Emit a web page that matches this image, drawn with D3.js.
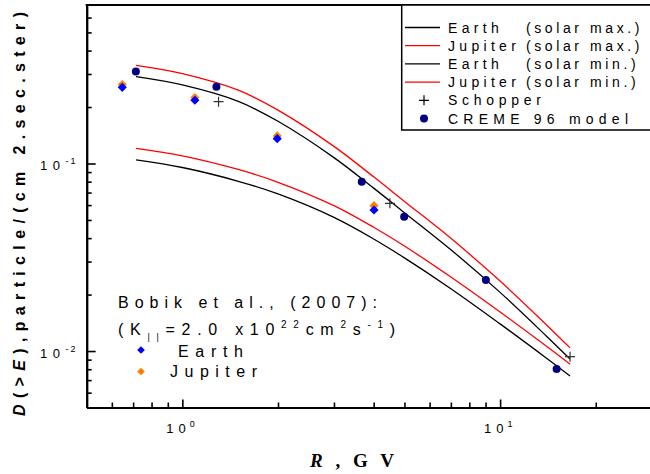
<!DOCTYPE html>
<html><head><meta charset="utf-8">
<script src="https://cdn.jsdelivr.net/npm/d3@7"></script>
<style>body{margin:0;background:#fff} svg{display:block}</style>
</head><body>
<svg id="c" width="650" height="474"></svg>
<script>
// ---- data ----
const rigidity = [0.715, 1, 1.5, 2, 3, 4, 5, 7, 10, 14, 16.6];
const earthSolarMax   = [0.1045, 0.0952, 0.0804, 0.0688, 0.0516, 0.0396, 0.0314, 0.0215, 0.01396, 0.00916, 0.00736];
const jupiterSolarMax = [0.1205, 0.1099, 0.0929, 0.0794, 0.0596, 0.0457, 0.0363, 0.0248, 0.01614, 0.0106, 0.00851];
const earthSolarMin   = [0.2904, 0.2625, 0.2144, 0.1679, 0.1075, 0.0739, 0.0547, 0.0347, 0.02055, 0.0120, 0.00906];
const jupiterSolarMin = [0.3334, 0.3014, 0.2461, 0.1927, 0.1234, 0.0849, 0.0628, 0.0399, 0.0236, 0.01378, 0.0104];
const schopperR    = [1.30, 4.50, 16.6];
const schopperFlux = [0.2136, 0.0613, 0.00933];
const cremeR    = [0.714, 1.28, 3.67, 4.99, 9.02, 15.06];
const cremeFlux = [0.309, 0.2567, 0.080, 0.052, 0.0239, 0.00802];
const bobikR       = [0.647, 1.095, 1.989, 4.01];
const bobikEarth   = [0.2547, 0.2173, 0.1356, 0.0565];
const bobikJupiter = [0.2636, 0.2249, 0.1403, 0.0596];
const xMajorTicks = [1, 10];
const xMajorLabels = ["0", "1"];
const yMajorTicks = [0.01, 0.1];
const yMajorLabels = ["-2", "-1"];
const seriesNames = ["Earth", "Jupiter", "Earth", "Jupiter"];
const seriesConds = ["(solar max.)", "(solar max.)", "(solar min.)", "(solar min.)"];

// ---- layout ----
const SANS = "'Liberation Sans', Arial, sans-serif";
const SERIF = "'Liberation Serif', 'Times New Roman', serif";
const L = 86.7, R = 651.7, T = 5, B = 407.5;
const x = d3.scaleLog().domain([0.5, 30]).range([L, R]);
const y = d3.scaleLog().domain([0.005, 0.7]).range([B, T]);
const svg = d3.select("#c");

function fit(sel, target) {
  const n = sel.node();
  sel.style("letter-spacing", "0px");
  const w0 = n.getComputedTextLength();
  const cnt = n.textContent.length;
  sel.style("letter-spacing", ((target - w0) / (cnt - 1)) + "px");
}

// minor tick values
const xMinor = [], yMinor = [];
[0.1, 1, 10].forEach(d => { for (let k = 2; k <= 9; k++) { const v = d * k; if (v > 0.5 && v < 30) xMinor.push(v); } });
[0.001, 0.01, 0.1].forEach(d => { for (let k = 2; k <= 9; k++) { const v = d * k; if (v > 0.005 && v < 0.7) yMinor.push(v); } });

// axes
function styleAxis(g) {
  g.select(".domain").attr("stroke", "#000").attr("stroke-width", 2);
  g.selectAll(".tick line").attr("stroke", "#000").attr("stroke-width", 1.6);
  g.selectAll(".tick text").remove();
}
svg.append("g").attr("transform", `translate(0,${B})`)
  .call(d3.axisBottom(x).tickValues(xMinor).tickSize(-5).tickSizeOuter(0).tickFormat("")).call(styleAxis);
svg.append("g").attr("transform", `translate(0,${B})`)
  .call(d3.axisBottom(x).tickValues(xMajorTicks).tickSize(-8).tickSizeOuter(0).tickFormat("")).call(styleAxis);
svg.append("g").attr("transform", `translate(${L},0)`)
  .call(d3.axisLeft(y).tickValues(yMinor).tickSize(-5).tickSizeOuter(0).tickFormat("")).call(styleAxis);
svg.append("g").attr("transform", `translate(${L},0)`)
  .call(d3.axisLeft(y).tickValues(yMajorTicks).tickSize(-9).tickSizeOuter(0).tickFormat("")).call(styleAxis);
svg.append("line").attr("x1", L - 1).attr("x2", R).attr("y1", T).attr("y2", T).attr("stroke", "#000").attr("stroke-width", 2);
svg.append("line").attr("x1", R).attr("x2", R).attr("y1", T).attr("y2", B).attr("stroke", "#000").attr("stroke-width", 2);

// tick labels
xMajorTicks.forEach((v, i) => {
  const t = svg.append("text").attr("x", x(v) - 16).attr("y", 433).attr("font-family", SANS).attr("font-size", 13).attr("fill", "#000");
  t.append("tspan").text("10").style("letter-spacing", "5px");
  t.append("tspan").text(xMajorLabels[i]).attr("font-size", 9).attr("dy", -6).attr("dx", -1);
});
yMajorTicks.forEach((v, i) => {
  const t = svg.append("text").attr("x", 40).attr("y", y(v) + 6.5).attr("font-family", SANS).attr("font-size", 13).attr("fill", "#000");
  t.append("tspan").text("10").style("letter-spacing", "5.5px");
  t.append("tspan").text(yMajorLabels[i]).attr("font-size", 9).attr("dy", -6).attr("dx", 0).style("letter-spacing", "2px");
});

// axis titles
const yt = svg.append("text").attr("transform", "translate(25,416) rotate(-90)")
  .attr("font-family", SANS).attr("font-size", 16).attr("font-weight", "bold").attr("fill", "#000");
yt.append("tspan").text("D").attr("font-style", "italic");
yt.append("tspan").text("(>");
yt.append("tspan").text("E").attr("font-style", "italic");
yt.append("tspan").text("),particle/(cm 2.sec.ster)");
fit(yt, 404);

const xt = svg.append("text").attr("x", 310).attr("y", 467)
  .attr("font-family", SERIF).attr("font-size", 19).attr("font-weight", "bold").attr("fill", "#000");
xt.append("tspan").text("R").attr("font-style", "italic");
xt.append("tspan").text(" , G V");
fit(xt, 84);

// curves
const line = d3.line().x(d => x(d[0])).y(d => y(d[1])).curve(d3.curveCatmullRom.alpha(0.5));
const curves = [
  [earthSolarMax, "#000"],
  [jupiterSolarMax, "#ff0000"],
  [earthSolarMin, "#000"],
  [jupiterSolarMin, "#ff0000"]
];
curves.forEach(([vals, col]) => {
  svg.append("path").datum(rigidity.map((r, i) => [r, vals[i]]))
    .attr("d", line).attr("fill", "none").attr("stroke", col).attr("stroke-width", 1.3);
});

// Bobik diamonds (Jupiter orange behind, Earth blue in front)
const diamond = d3.symbol(d3.symbolSquare, 42);
bobikR.forEach((r, i) => {
  svg.append("path").attr("d", diamond()).attr("fill", "#ff8000")
    .attr("transform", `translate(${x(r)},${y(bobikJupiter[i])}) rotate(45)`);
});
bobikR.forEach((r, i) => {
  svg.append("path").attr("d", diamond()).attr("fill", "#0000ff")
    .attr("transform", `translate(${x(r)},${y(bobikEarth[i])}) rotate(45)`);
});

// CREME 96 model
cremeR.forEach((r, i) => {
  svg.append("circle").attr("cx", x(r)).attr("cy", y(cremeFlux[i])).attr("r", 4).attr("fill", "#000080");
});
// Schopper crosses
schopperR.forEach((r, i) => {
  svg.append("path").attr("d", "M-5,0H5M0,-5V5").attr("stroke", "#333").attr("stroke-width", 1.2)
    .attr("transform", `translate(${x(r)},${y(schopperFlux[i])})`);
});

// legend box
svg.append("rect").attr("x", 401.7).attr("y", T).attr("width", 270).attr("height", 125)
  .attr("fill", "#fff").attr("stroke", "#000").attr("stroke-width", 1.5);
const lgY = i => 27.5 + i * 18.2;
curves.forEach(([vals, col], i) => {
  svg.append("line").attr("x1", 405).attr("x2", 440).attr("y1", lgY(i)).attr("y2", lgY(i))
    .attr("stroke", col).attr("stroke-width", 1.3);
  svg.append("text").attr("x", 448).attr("y", lgY(i) + 5).attr("font-family", SANS).attr("font-size", 14)
    .style("letter-spacing", "4.3px").text(seriesNames[i]);
  svg.append("text").attr("x", 526).attr("y", lgY(i) + 5).attr("font-family", SANS).attr("font-size", 14)
    .style("letter-spacing", "3.6px").text(seriesConds[i]);
});
svg.append("path").attr("d", "M-5,0H5M0,-5V5").attr("stroke", "#000").attr("stroke-width", 1.2)
  .attr("transform", `translate(424,${lgY(4)})`);
svg.append("text").attr("x", 448).attr("y", lgY(4) + 5).attr("font-family", SANS).attr("font-size", 14)
  .style("letter-spacing", "4.7px").text("Schopper");
svg.append("circle").attr("cx", 424).attr("cy", lgY(5)).attr("r", 4).attr("fill", "#000080");
const cr = svg.append("text").attr("x", 448).attr("y", lgY(5) + 5).attr("font-family", SANS).attr("font-size", 14).text("CREME 96 model");
fit(cr, 180);

// annotation
const a1 = svg.append("text").attr("x", 118).attr("y", 308).attr("font-family", SANS).attr("font-size", 16).text("Bobik et al., (2007):");
fit(a1, 259);
const a2 = svg.append("text").attr("x", 118).attr("y", 335).attr("font-family", SANS).attr("font-size", 16);
a2.append("tspan").text("(K");
a2.append("tspan").text("||").attr("font-size", 9).attr("dy", 5);
a2.append("tspan").text("=2.0 x10").attr("dy", -5);
a2.append("tspan").text("22").attr("font-size", 10).attr("dy", -7);
a2.append("tspan").text("cm").attr("dy", 7);
a2.append("tspan").text("2").attr("font-size", 10).attr("dy", -7);
a2.append("tspan").text("s").attr("dy", 7);
a2.append("tspan").text("-1").attr("font-size", 10).attr("dy", -7);
a2.append("tspan").text(")").attr("dy", 7);
fit(a2, 277);
const dSmall = d3.symbol(d3.symbolSquare, 30);
svg.append("path").attr("d", dSmall()).attr("fill", "#0000ff").attr("transform", "translate(141,350) rotate(45)");
svg.append("path").attr("d", dSmall()).attr("fill", "#ff8000").attr("transform", "translate(141,371.5) rotate(45)");
const e1 = svg.append("text").attr("x", 178).attr("y", 356.5).attr("font-family", SANS).attr("font-size", 16).text("Earth");
fit(e1, 65);
const j1 = svg.append("text").attr("x", 170).attr("y", 377).attr("font-family", SANS).attr("font-size", 16).text("Jupiter");
fit(j1, 87);
</script>
</body></html>
